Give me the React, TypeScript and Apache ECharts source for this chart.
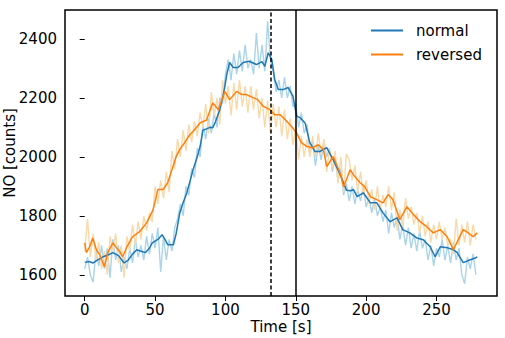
import React, { useEffect, useRef } from "react";
import * as echarts from "echarts";

// Sampling step (s) of the raw traces
const RAW_STEP = 2;

// Raw (unsmoothed) traces, one value every RAW_STEP seconds from t = 0
const rawNormal = [
  1620, 1660, 1600, 1575, 1680, 1630, 1700, 1620, 1690, 1590,
  1720, 1650, 1700, 1610, 1660, 1620, 1690, 1640, 1720, 1660,
  1700, 1650, 1730, 1670, 1740, 1690, 1760, 1610, 1730, 1650,
  1720, 1680, 1760, 1790, 1840, 1800, 1900, 1870, 1960, 1930,
  2030, 2000, 2110, 2060, 2130, 2080, 2150, 2100, 2200, 2180,
  2280, 2330, 2260, 2350, 2280, 2360, 2290, 2380, 2300, 2330,
  2280, 2420, 2300, 2380, 2290, 2460, 2330, 2290, 2220, 2260,
  2200, 2270, 2200, 2240, 2170, 2180, 2100, 2150, 2080, 2110,
  2010, 2050, 1970, 2040, 1990, 2050, 2000, 2030, 1950, 1990,
  1920, 1960, 1870, 1910, 1850, 1900, 1840, 1890, 1850, 1900,
  1830, 1860, 1810, 1860, 1800, 1830, 1780, 1820, 1740, 1810,
  1760, 1800, 1720, 1770, 1700, 1760, 1690, 1740, 1680, 1750,
  1690, 1720, 1650, 1700, 1630, 1690, 1660, 1720, 1650, 1700,
  1640, 1710, 1650, 1690, 1600, 1570, 1660, 1620, 1670, 1600,
];

const rawReversed = [
  1680, 1790, 1660, 1740, 1650, 1710, 1620, 1680, 1600, 1730,
  1680, 1740, 1640, 1700, 1590, 1730, 1680, 1770, 1700, 1780,
  1720, 1800, 1750, 1810, 1780, 1900, 1840, 1920, 1860, 1950,
  1880, 2020, 1960, 2060, 2000, 2090, 2020, 2110, 2050, 2120,
  2070, 2150, 2100, 2180, 2080, 2220, 2140, 2200, 2110, 2260,
  2180, 2240, 2140, 2250, 2160, 2260, 2170, 2240, 2150, 2240,
  2160, 2230, 2130, 2200, 2100, 2190, 2080, 2180, 2100, 2170,
  2070, 2160, 2060, 2130, 2040, 2100, 1990, 2070, 2000, 2060,
  2000, 2070, 2000, 2080, 2010, 2060, 1950, 2030, 1960, 2020,
  1910, 2000, 1880, 2010, 1990, 1920, 1970, 1880, 1950, 1870,
  1920, 1840, 1890, 1820, 1900, 1820, 1870, 1830, 1900, 1820,
  1880, 1750, 1820, 1760, 1860, 1790, 1830, 1770, 1810, 1740,
  1800, 1730, 1780, 1710, 1770, 1720, 1780, 1720, 1760, 1700,
  1720, 1670, 1790, 1700, 1770, 1710, 1780, 1700, 1770, 1720,
];

// Smoothed traces (time in s, value in counts)
const normalTime = [
  0, 3, 6, 9, 13, 17, 20, 24, 28, 31, 34, 37, 40, 43, 46, 48, 52, 55, 57, 59,
  63, 65, 67.6, 70, 72.6, 75, 77, 80, 82, 84, 86.6, 89, 91, 93, 96, 98, 99.6, 101, 103, 105.5,
  109, 112.6, 117, 122, 126, 128, 130.4, 133, 135, 137.6, 141, 144.6, 148, 150.6, 153, 156.6, 160, 163.7, 167, 172,
  176.6, 181.5, 186, 189, 191, 193.6, 198, 203, 207.6, 212, 217, 222, 226, 231, 236, 240.6, 245.5, 249, 252.7, 257.6,
  262, 264.7, 269, 274, 277.6, 279,
];
const normalValue = [
  1642, 1645, 1640, 1650, 1661, 1668, 1675, 1665, 1640, 1650, 1670, 1685, 1680, 1675, 1690, 1708, 1720, 1736, 1720, 1702,
  1702, 1740, 1810, 1845, 1878, 1920, 1956, 2000, 2035, 2090, 2095, 2100, 2099, 2120, 2160, 2200, 2239, 2280, 2320, 2303,
  2303, 2320, 2324, 2313, 2323, 2307, 2353, 2330, 2262, 2228, 2228, 2235, 2206, 2138, 2133, 2115, 2048, 2018, 2018, 2031,
  1990, 1940, 1887, 1885, 1889, 1865, 1878, 1844, 1844, 1810, 1780, 1793, 1753, 1742, 1725, 1719, 1695, 1661, 1695, 1692,
  1685, 1675, 1641, 1651, 1657, 1661,
];

const reversedTime = [
  0, 1.2, 3.5, 5.7, 8.3, 10.7, 14, 16.4, 20, 22.5, 25, 27, 30, 34, 39, 44, 48.6, 52, 55.7, 59,
  62, 65, 67.6, 71, 74.7, 77, 82, 86.6, 91, 95, 99.6, 103, 108, 111.7, 115, 119.6, 123, 127, 131.7, 135,
  139, 143.7, 147, 150.6, 154, 158, 162, 166, 169.6, 172, 176.6, 181.5, 184, 186, 188.6, 192, 195.7, 199, 203, 207.6,
  212, 215.6, 219, 224, 229, 233.7, 238.4, 243, 247.7, 252.7, 257.6, 262, 265.5, 269, 272.6, 276, 279,
];
const reversedValue = [
  1708, 1675, 1695, 1725, 1685, 1668, 1627, 1675, 1708, 1692, 1678, 1661, 1695, 1729, 1746, 1776, 1820, 1889, 1889, 1912,
  1956, 2001, 2025, 2048, 2075, 2086, 2115, 2125, 2183, 2160, 2222, 2194, 2222, 2211, 2211, 2201, 2194, 2171, 2160, 2143,
  2143, 2120, 2103, 2081, 2048, 2035, 2031, 2041, 2025, 1967, 2001, 1945, 1899, 1922, 1956, 1933, 1912, 1899, 1865, 1855,
  1844, 1872, 1855, 1787, 1831, 1804, 1780, 1763, 1742, 1753, 1729, 1685, 1719, 1753, 1742, 1729, 1742,
];

// Event markers (s)
const markerDashed = 132;
const markerSolid = 150;

// Tick labels
const xTicks = [0, 50, 100, 150, 200, 250];
const yTicks = [1600, 1800, 2000, 2200, 2400];

const FONT = "DejaVu Sans";
const FS = 15;

export default function App() {
  const ref = useRef<HTMLDivElement>(null);

  useEffect(() => {
    if (!ref.current) return;
    const chart = echarts.init(ref.current, null, { renderer: "svg" });

    const pairs = (t: number[], v: number[]) => t.map((x, i) => [x, v[i]]);
    const rawPairs = (v: number[]) => v.map((y, i) => [i * RAW_STEP, y]);

    chart.setOption({
      animation: false,
      backgroundColor: "#ffffff",
      grid: {
        left: 65,
        top: 10,
        right: 8,
        bottom: 42,
        containLabel: false,
        outerBoundsMode: "none",
        show: true,
        borderColor: "#000000",
        borderWidth: 1.5,
        backgroundColor: "transparent",
      },
      graphic: [
        {
          type: "text",
          x: 281,
          y: 327,
          style: {
            text: "Time [s]",
            fontFamily: FONT,
            fontSize: FS,
            fill: "#000",
            align: "center",
            verticalAlign: "middle",
          },
        },
      ],
      legend: {
        orient: "vertical",
        left: 371,
        top: 23,
        padding: 0,
        itemGap: 9,
        itemWidth: 32,
        itemHeight: 2,
        icon: "rect",
        data: ["normal", "reversed"],
        textStyle: {
          fontFamily: FONT,
          fontSize: FS,
          color: "#000",
          lineHeight: 15,
          padding: [0, 0, 0, 8],
        },
      },
      xAxis: {
        type: "value",
        min: -14,
        max: 293,
        axisLine: { show: false },
        splitLine: { show: false },
        axisTick: {
          show: true,
          length: 5,
          lineStyle: { color: "#000", width: 1 },
          customValues: xTicks,
        },
        axisLabel: {
          fontFamily: FONT,
          fontSize: FS,
          color: "#000",
          margin: 8,
          lineHeight: 12,
          customValues: xTicks,
          formatter: (v: number) => String(v),
        },
      },
      yAxis: {
        type: "value",
        min: 1528,
        max: 2498,
        name: "NO [counts]",
        nameLocation: "middle",
        nameGap: 48,
        nameMoveOverlap: false,
        nameTextStyle: { fontFamily: FONT, fontSize: FS, color: "#000" },
        axisLine: { show: false },
        splitLine: { show: false },
        axisTick: {
          show: true,
          length: 5,
          lineStyle: { color: "#000", width: 1 },
          customValues: yTicks,
        },
        axisLabel: {
          fontFamily: FONT,
          fontSize: FS,
          color: "#000",
          margin: 8,
          customValues: yTicks,
          formatter: (v: number) => String(v),
        },
      },
      series: [
        {
          name: "normal raw",
          type: "line",
          data: rawPairs(rawNormal),
          showSymbol: false,
          lineStyle: { color: "#a9d4ea", width: 1.4 },
          itemStyle: { color: "#a9d4ea" },
          z: 1,
        },
        {
          name: "reversed raw",
          type: "line",
          data: rawPairs(rawReversed),
          showSymbol: false,
          lineStyle: { color: "#f9d9a9", width: 1.4 },
          itemStyle: { color: "#f9d9a9" },
          z: 1,
        },
        {
          name: "normal",
          type: "line",
          data: pairs(normalTime, normalValue),
          showSymbol: false,
          lineStyle: { color: "#1f77b4", width: 1.5 },
          itemStyle: { color: "#1f77b4" },
          z: 2,
          markLine: {
            silent: true,
            symbol: "none",
            label: { show: false },
            data: [
              { xAxis: markerDashed, lineStyle: { color: "#000", width: 1.5, type: [4, 2.5] } },
              { xAxis: markerSolid, lineStyle: { color: "#000", width: 1.5, type: "solid" } },
            ],
          },
        },
        {
          name: "reversed",
          type: "line",
          data: pairs(reversedTime, reversedValue),
          showSymbol: false,
          lineStyle: { color: "#ff7f0e", width: 1.5 },
          itemStyle: { color: "#ff7f0e" },
          z: 3,
        },
      ],
    });

    return () => chart.dispose();
  }, []);

  return (
    <div
      ref={ref}
      style={{ position: "fixed", left: 0, top: 0, width: 505, height: 338 }}
    />
  );
}
